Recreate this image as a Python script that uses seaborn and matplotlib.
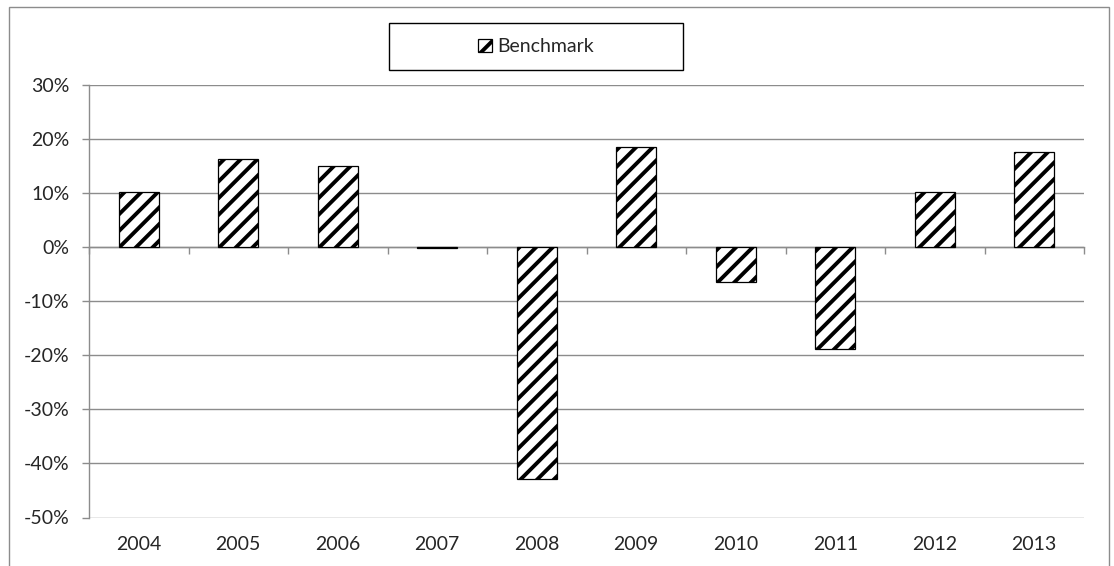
import numpy as np
import pandas as pd
import seaborn as sns
import matplotlib.pyplot as plt
from matplotlib.patches import Rectangle
from matplotlib.ticker import PercentFormatter

# -------- DATA (annual returns, %) --------
years = ['2004', '2005', '2006', '2007', '2008', '2009', '2010', '2011', '2012', '2013']
benchmark = [10.2, 16.3, 15.0, -0.1, -42.8, 18.6, -6.5, -18.9, 10.3, 17.6]
y_ticks = [-50, -40, -30, -20, -10, 0, 10, 20, 30]

df = pd.DataFrame({'Year': years, 'Benchmark': benchmark})

# -------- STYLE --------
sns.set_style('white')
plt.rcParams['font.family'] = ['Lato', 'DejaVu Sans']
plt.rcParams['hatch.linewidth'] = 2.8
plt.rcParams['axes.unicode_minus'] = False
grey = '#8c8c8c'

fig = plt.figure(figsize=(11.14, 5.66), dpi=100)
ax = fig.add_axes([89 / 1114, 1 - 517.5 / 566, (1084 - 89) / 1114, (517.5 - 85.3) / 566])

# -------- BARS --------
sns.barplot(data=df, x='Year', y='Benchmark', color='white', edgecolor='black',
            linewidth=0.9, width=0.4, hatch='//', ax=ax)

ax.set_ylim(-50, 30)
ax.set_xlim(-0.5, len(years) - 0.5)
ax.set_yticks(y_ticks)
ax.yaxis.set_major_formatter(PercentFormatter(xmax=100, decimals=0))
ax.set_xlabel('')
ax.set_ylabel('')

# gridlines & spines
ax.yaxis.grid(True, color=grey, linewidth=1)
ax.set_axisbelow(True)
for side in ['top', 'right', 'bottom']:
    ax.spines[side].set_visible(False)
ax.spines['left'].set_color(grey)
ax.spines['left'].set_linewidth(1)

ax.tick_params(axis='y', direction='out', length=5, width=1, color=grey,
               pad=9, labelsize=14, left=True)
ax.tick_params(axis='x', length=0, pad=13, labelsize=14)

# zero line with category-boundary tick marks
zero_ax = ax.secondary_xaxis(0, transform=ax.transData)
zero_ax.set_xticks(np.arange(-0.5, len(years), 1))
zero_ax.tick_params(direction='out', length=5, width=1, color=grey,
                    labelbottom=False, labeltop=False)
for sp in zero_ax.spines.values():
    sp.set_color(grey)
    sp.set_linewidth(1)

# -------- LEGEND --------
fig.patches.append(Rectangle((389 / 1114, 1 - 70 / 566), 294 / 1114, 46.7 / 566,
                             transform=fig.transFigure, facecolor='white',
                             edgecolor='black', linewidth=1))
fig.legend(handles=[ax.patches[0]], labels=['Benchmark'], loc='center',
           bbox_to_anchor=(536 / 1114, 1 - 46.7 / 566), frameon=False,
           fontsize=14, handlelength=0.7, handleheight=0.7, handletextpad=0.3)

# outer chart border
fig.patches.append(Rectangle((9 / 1114, -0.02), 1100 / 1114, 1 - 7 / 566 + 0.02,
                             transform=fig.transFigure, facecolor='none',
                             edgecolor=grey, linewidth=1))

fig.savefig('out.png', dpi=100)
